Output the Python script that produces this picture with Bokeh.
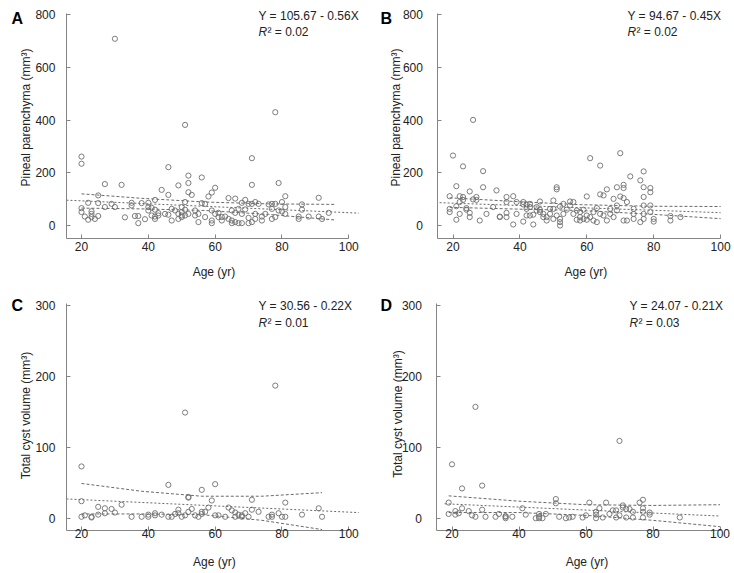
import math
from bokeh.plotting import figure
from bokeh.layouts import column, row
from bokeh.models import Range1d, FixedTicker, Label
from bokeh.embed import file_html
from bokeh.resources import INLINE

# ---------------- data ----------------
A_age = [20, 20, 20, 20, 21, 22, 22, 23, 23, 23, 24, 25, 25, 25, 27, 27, 29, 30, 30, 32,
         33, 35, 35, 36, 37, 37, 38, 39, 40, 40, 40, 41, 41, 42, 42, 42, 42, 43, 43, 44,
         45, 46, 46, 46, 47, 47, 48, 49, 49, 49, 50, 50, 50, 50, 51, 51, 51, 51, 52, 52,
         52, 52, 53, 54, 54, 55, 55, 56, 56, 57, 57, 58, 59, 59, 59, 59, 60, 60, 61, 61,
         62, 62, 63, 64, 64, 65, 65, 65, 66, 66, 66, 67, 67, 68, 68, 68, 69, 69, 70, 70,
         70, 71, 71, 71, 71, 72, 72, 72, 73, 74, 74, 75, 76, 77, 77, 77, 78, 78, 78, 79,
         79, 80, 80, 81, 81, 81, 85, 85, 86, 86, 88, 91, 91, 92, 94]
A_vol = [262, 235, 67, 52, 35, 87, 23, 55, 45, 33, 26, 115, 86, 37, 158, 71, 83, 708, 71, 155,
         32, 87, 77, 37, 10, 37, 86, 25, 87, 71, 58, 68, 39, 98, 61, 26, 35, 48, 39, 136,
         45, 222, 117, 42, 64, 20, 58, 153, 45, 26, 71, 52, 39, 33, 382, 90, 61, 39, 190, 162,
         127, 45, 117, 58, 39, 14, 45, 183, 86, 83, 33, 111, 126, 58, 20, 10, 144, 45, 49, 33,
         20, 33, 35, 105, 26, 58, 20, 10, 103, 49, 14, 10, 64, 87, 45, 10, 98, 62, 83, 30,
         10, 256, 155, 14, 83, 90, 45, 26, 83, 35, 20, 45, 81, 83, 64, 26, 430, 83, 33, 162,
         58, 90, 54, 112, 71, 45, 35, 26, 81, 61, 35, 106, 35, 26, 49]

B_age = [19, 19, 19, 20, 21, 21, 21, 22, 22, 22, 23, 23, 23, 24, 24, 25, 25, 25, 26, 26,
         27, 27, 28, 29, 29, 30, 32, 33, 34, 34, 36, 36, 36, 36, 38, 38, 39, 39, 41, 41,
         41, 42, 42, 42, 43, 43, 43, 44, 44, 45, 45, 46, 46, 46, 47, 47, 48, 48, 49, 49,
         50, 50, 50, 51, 51, 51, 52, 52, 52, 52, 53, 53, 54, 55, 55, 56, 56, 57, 57, 58,
         58, 58, 59, 59, 60, 60, 60, 61, 61, 62, 62, 63, 63, 64, 64, 64, 65, 65, 66, 66,
         67, 67, 68, 68, 69, 69, 69, 70, 70, 71, 71, 71, 71, 72, 72, 73, 74, 74, 74, 76,
         76, 77, 77, 77, 77, 77, 77, 79, 79, 79, 79, 80, 80, 85, 85, 88]
B_vol = [112, 64, 52, 266, 150, 23, 74, 112, 45, 90, 225, 109, 98, 67, 61, 130, 49, 33, 401, 100,
         109, 98, 20, 207, 146, 45, 71, 134, 35, 33, 109, 90, 49, 33, 5, 112, 90, 45, 90, 16,
         81, 81, 64, 39, 83, 39, 71, 5, 42, 58, 71, 92, 61, 52, 33, 45, 20, 33, 45, 64,
         96, 26, 64, 146, 138, 39, 1, 14, 26, 73, 83, 45, 61, 92, 77, 90, 45, 23, 58, 52,
         33, 20, 61, 26, 111, 39, 23, 256, 33, 52, 20, 14, 67, 228, 119, 45, 115, 39, 138, 20,
         64, 45, 102, 33, 146, 77, 58, 275, 111, 155, 143, 105, 20, 90, 20, 187, 45, 64, 26, 172,
         14, 206, 146, 109, 77, 45, 26, 143, 127, 77, 52, 26, 16, 37, 20, 33]

C_age = [20, 20, 20, 21, 23, 23, 25, 25, 27, 27, 29, 30, 32, 35, 38, 40, 40, 42, 42, 44,
         46, 46, 47, 48, 49, 49, 50, 51, 51, 52, 52, 52, 53, 54, 55, 56, 56, 56, 57, 58,
         59, 60, 60, 61, 63, 64, 65, 66, 66, 67, 68, 68, 69, 70, 71, 71, 73, 76, 77, 77,
         78, 79, 80, 81, 81, 86, 91, 92]
C_vol = [73, 24, 2, 4, 1, 2, 16, 5, 14, 7, 13, 8, 19, 2, 2, 5, 2, 7, 4, 5,
         47, 2, 2, 6, 12, 7, 2, 149, 4, 30, 29, 9, 13, 4, 2, 40, 9, 6, 9, 15,
         25, 48, 4, 4, 2, 15, 11, 8, 2, 5, 4, 2, 7, 2, 26, 12, 9, 2, 5, 2,
         187, 7, 2, 22, 2, 5, 14, 2]

D_age = [19, 19, 20, 21, 21, 22, 23, 23, 25, 26, 27, 27, 29, 29, 30, 33, 34, 36, 36, 36,
         38, 41, 42, 45, 46, 46, 46, 47, 48, 51, 51, 52, 54, 55, 56, 59, 60, 61, 63, 63,
         63, 64, 65, 66, 67, 68, 69, 69, 70, 70, 71, 71, 72, 72, 73, 74, 74, 76, 77, 77,
         77, 77, 79, 79, 88]
D_vol = [22, 6, 76, 10, 5, 7, 42, 14, 10, 4, 157, 2, 46, 12, 2, 2, 6, 3, 2, 0,
         2, 14, 5, 0, 6, 2, 0, 0, 6, 27, 21, 2, 0, 1, 2, 1, 4, 22, 9, 5,
         0, 14, 1, 22, 6, 11, 11, 1, 109, 4, 18, 15, 13, 1, 13, 9, 1, 22, 26, 14,
         9, 1, 8, 5, 1]

# regression equations (intercept, slope) and R^2 as printed
A_fit = (105.67, -0.56)
B_fit = (94.67, -0.45)
C_fit = (30.56, -0.22)
D_fit = (24.07, -0.21)
A_eq, A_r2 = "Y = 105.67 - 0.56X", "0.02"
B_eq, B_r2 = "Y = 94.67 - 0.45X", "0.02"
C_eq, C_r2 = "Y = 30.56 - 0.22X", "0.01"
D_eq, D_r2 = "Y = 24.07 - 0.21X", "0.03"

# confidence band readings (x, upper, lower)
A_band_x = [20, 38, 57, 76, 96]
A_band_up = [121, 104, 90, 83, 81]
A_band_lo = [67, 64, 58, 43, 22]
B_band_x = [19, 40, 58, 79, 100]
B_band_up = [106, 91, 80, 74, 73]
B_band_lo = [70, 63, 58, 44, 27]
C_band_x = [20, 38, 56, 74, 92]
C_band_up = [49, 38, 31, 31, 36]
C_band_lo = [6, 6, 5, -3, -16]
D_band_x = [19, 40, 60, 80, 100]
D_band_up = [31.5, 24, 19, 18, 19]
D_band_lo = [8, 8, 4, -3, -12]

x_ticks = [20, 40, 60, 80, 100]
top_y_ticks = [0, 200, 400, 600, 800]
bot_y_ticks = [0, 100, 200, 300]
x_label = "Age (yr)"
top_y_label = "Pineal parenchyma (mm³)"
bot_y_label = "Total cyst volume (mm³)"

# ---------------- style ----------------
FONT = "Liberation Sans"
TXT = "#222222"
AXC = "#858585"
PTC = "#6e6e6e"
LNC = "#6a6a6a"


def panel(letter, ages, vals, fit, fit_x, bx, bup, blo, eq, r2, ylab, yticks, g):
    # g: page geometry (canvas box and where the axis values fall, in pixels)
    left, top, W, H = g["box"]
    x20, sx = g["x20"], g["sx"]
    y0, sy = g["y0"], g["sy"]

    def d(px, py):
        return 20 + (px - x20) / sx, (y0 - py) / sy

    xr = (d(left, 0)[0], d(left + W, 0)[0])
    yr = (d(0, top + H)[1], d(0, top)[1])
    x_axis_at = d(0, g["xaxis_py"])[1]
    y_top = d(0, g["yaxis_top_py"])[1]

    p = figure(width=W, height=H, x_range=Range1d(*xr), y_range=Range1d(*yr),
               output_backend="svg", toolbar_location=None,
               min_border_left=0, min_border_right=0,
               min_border_top=0, min_border_bottom=0)
    p.outline_line_color = None
    p.grid.visible = False
    p.background_fill_color = "white"
    p.border_fill_color = "white"

    xa, ya = p.xaxis[0], p.yaxis[0]
    for ax in (xa, ya):
        ax.axis_line_color = AXC
        ax.axis_line_width = 1
        ax.major_tick_line_color = AXC
        ax.major_tick_in = 4
        ax.major_tick_out = 0
        ax.minor_tick_line_color = None
        ax.major_label_text_font = FONT
        ax.major_label_text_font_size = "12px"
        ax.major_label_text_color = TXT
    xa.ticker = FixedTicker(ticks=x_ticks)
    ya.ticker = FixedTicker(ticks=yticks)
    xa.fixed_location = x_axis_at
    ya.fixed_location = 15.5
    xa.bounds = (15.5, 100)
    ya.bounds = (x_axis_at, y_top)
    xa.major_label_standoff = g["xls"]
    ya.major_label_standoff = g["yls"]

    # bands and fit
    p.line(bx, bup, line_color=LNC, line_width=1, line_dash="3 2")
    p.line(bx, blo, line_color=LNC, line_width=1, line_dash="3 2")
    fy = [fit[0] + fit[1] * v for v in fit_x]
    p.line(fit_x, fy, line_color=LNC, line_width=1, line_dash="2 2")

    p.scatter(ages, vals, marker="circle", size=5.2, fill_color=None,
              line_color=PTC, line_width=0.9)

    def lab(pos, text, **kw):
        x, y = d(*pos)
        opts = dict(text_font=FONT, text_font_size="12px", text_color=TXT,
                    text_baseline="middle")
        opts.update(kw)
        p.add_layout(Label(x=x, y=y, text=text, **opts))

    lab(g["letter"], letter, text_font_size="16px", text_font_style="bold",
        text_color="#000000")
    lab(g["eq"], eq)
    lab(g["r2"], "R", text_font_style="italic")
    lab(g["r2"], "² = " + r2, x_offset=9)
    lab(g["xlab"], x_label, text_align="center")
    lab(g["ylab"], ylab, text_align="center", angle=math.pi / 2)
    return p


gA = dict(box=(0, 0, 367, 287), x20=81, sx=3.341, y0=225.3, sy=211.3 / 800,
          xaxis_py=238, yaxis_top_py=12.7, xls=3, yls=11,
          letter=(11, 18), eq=(258, 15), r2=(258, 31.5),
          xlab=(213.5, 271.5), ylab=(25, 117))
gB = dict(box=(367, 0, 367, 287), x20=452.5, sx=3.345, y0=225.3, sy=211.3 / 800,
          xaxis_py=238, yaxis_top_py=12.7, xls=3, yls=15,
          letter=(380, 18), eq=(627, 15), r2=(627, 31.5),
          xlab=(585.3, 271.5), ylab=(395.3, 117))
gC = dict(box=(0, 287, 367, 286), x20=81, sx=3.341, y0=517.7, sy=212.7 / 300,
          xaxis_py=529.5, yaxis_top_py=303.3, xls=-1, yls=11,
          letter=(11, 305), eq=(258, 305.5), r2=(258, 322.5),
          xlab=(213.8, 561), ylab=(25, 415))
gD = dict(box=(367, 287, 367, 286), x20=451.5, sx=3.35, y0=517.7, sy=212.7 / 300,
          xaxis_py=529.5, yaxis_top_py=303.3, xls=-1, yls=15,
          letter=(380, 304.5), eq=(629, 305.5), r2=(629, 322.5),
          xlab=(586.5, 561.5), ylab=(397, 413.5))

pA = panel("A", A_age, A_vol, A_fit, [15.5, 103], A_band_x, A_band_up, A_band_lo,
           A_eq, A_r2, top_y_label, top_y_ticks, gA)
pB = panel("B", B_age, B_vol, B_fit, [16, 100], B_band_x, B_band_up, B_band_lo,
           B_eq, B_r2, top_y_label, top_y_ticks, gB)
pC = panel("C", C_age, C_vol, C_fit, [15.5, 103], C_band_x, C_band_up, C_band_lo,
           C_eq, C_r2, bot_y_label, bot_y_ticks, gC)
pD = panel("D", D_age, D_vol, D_fit, [17.8, 100], D_band_x, D_band_up, D_band_lo,
           D_eq, D_r2, bot_y_label, bot_y_ticks, gD)

layout = column(row(pA, pB), row(pC, pD))
open("out.html", "w").write(file_html(layout, INLINE))
